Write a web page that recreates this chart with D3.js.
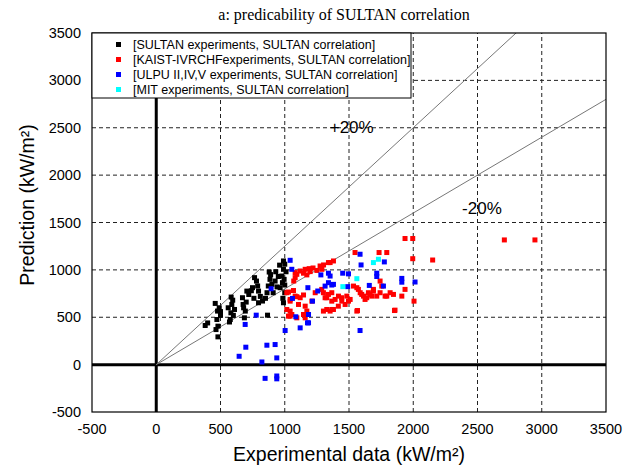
<!DOCTYPE html>
<html>
<head>
<meta charset="utf-8">
<script src="https://cdn.jsdelivr.net/npm/d3@7"></script>
<style>
  body { margin: 0; background: #fff; }
  svg { display: block; }
</style>
</head>
<body>
<div id="root"></div>
<script>
const width = 633;
const height = 466;

// tick values for both axes
const xTicks = [-500, 0, 500, 1000, 1500, 2000, 2500, 3000, 3500];
const yTicks = [-500, 0, 500, 1000, 1500, 2000, 2500, 3000, 3500];

// series: [experimental, predicted] in kW/m2
const sultan = [
  [381, 413], [400, 440], [459, 646], [477, 565], [472, 476], [480, 406], [465, 370], [480, 293],
  [500, 520], [490, 600], [500, 560], [583, 713], [588, 635], [581, 547], [576, 476], [609, 582],
  [600, 520], [595, 680], [560, 600], [570, 450], [671, 706], [676, 635], [693, 565], [686, 494],
  [705, 776], [700, 660], [680, 600], [720, 740], [749, 812], [765, 918], [780, 882], [789, 830],
  [796, 776], [796, 653], [827, 671], [760, 700], [740, 780], [810, 720], [866, 522], [879, 977],
  [885, 900], [872, 830], [862, 759], [850, 700], [890, 950], [925, 882], [900, 847], [910, 759],
  [940, 820], [950, 930], [930, 980], [960, 1050], [990, 1094], [990, 1006], [977, 935], [982, 865],
  [964, 812], [1000, 759], [990, 653], [1000, 1060], [1010, 980], [995, 900], [985, 700], [1000, 840]
];

const kaist = [
  [1016, 759], [1029, 766], [1042, 688], [1068, 782], [1081, 723], [1120, 706], [1107, 635], [1042, 670],
  [1094, 717], [1146, 735], [1016, 582], [1042, 565], [1055, 529], [1042, 512], [1094, 494], [1029, 512],
  [1146, 529], [1159, 494], [1159, 617], [1172, 565], [1211, 670], [1237, 759], [1070, 882], [1081, 918],
  [1081, 971], [1094, 953], [1120, 988], [1146, 965], [1159, 1006], [1172, 947], [1190, 1013], [1198, 982],
  [1220, 1020], [1250, 994], [1275, 1041], [1289, 1006], [1302, 1052], [1340, 1077], [1353, 1077], [1379, 1094],
  [1288, 794], [1301, 759], [1314, 706], [1327, 706], [1340, 741], [1366, 759], [1366, 670], [1392, 688],
  [1418, 723], [1443, 706], [1444, 670], [1470, 635], [1483, 723], [1496, 670], [1509, 688], [1301, 565],
  [1353, 565], [1379, 582], [1327, 582], [1366, 582], [1417, 617], [1535, 829], [1561, 812], [1573, 794],
  [1587, 759], [1599, 741], [1613, 723], [1625, 688], [1638, 706], [1651, 759], [1664, 741], [1677, 723],
  [1690, 777], [1690, 794], [1716, 723], [1742, 759], [1742, 882], [1755, 829], [1781, 723], [1794, 723],
  [1820, 759], [1846, 741], [1561, 565], [1566, 571], [1854, 571], [1858, 575], [1547, 1183], [1734, 1183],
  [1794, 1183], [1936, 1331], [1996, 1331], [1996, 1118], [2151, 1104], [1936, 794], [1911, 723], [2006, 670],
  [2709, 1316], [2947, 1316]
];

const ulpu = [
  [692, 424], [778, 522], [894, 801], [1003, 360], [1042, 1101], [1055, 1006], [697, 184], [645, 88],
  [861, 205], [925, 212], [938, 71], [822, 28], [847, -145], [938, -120], [938, -150], [1060, 699],
  [1086, 505], [1185, 529], [1185, 441], [1120, 388], [1177, 441], [1216, 670], [1257, 777], [1180, 812],
  [1281, 947], [1340, 965], [1353, 935], [1340, 865], [1314, 829], [1366, 840], [1379, 847], [1451, 965],
  [1496, 958], [1490, 823], [1586, 1165], [1594, 1052], [1586, 360], [1658, 836], [1716, 965], [1716, 930],
  [1775, 1084], [1768, 829], [1911, 910], [1911, 870], [2014, 872]
];

const mit = [[1452, 823], [1561, 907], [1690, 1077], [1729, 1112]];

const series = [
  {label: '[SULTAN experiments, SULTAN correlation]', color: '#000000', data: sultan},
  {label: '[KAIST-IVRCHFexperiments, SULTAN correlation]', color: '#ff0000', data: kaist},
  {label: '[ULPU II,IV,V experiments, SULTAN correlation]', color: '#0000ff', data: ulpu},
  {label: '[MIT experiments, SULTAN correlation]', color: '#00ffff', data: mit}
];

// +20% / -20% bounds
const bounds = [{slope: 1.25, text: '+20%', at: [1350, 2445]}, {slope: 0.8, text: '-20%', at: [2380, 1590]}];

const margin = {left: 92, right: 27, top: 33, bottom: 54};
const x = d3.scaleLinear().domain([-500, 3500]).range([margin.left, width - margin.right]);
const y = d3.scaleLinear().domain([-500, 3500]).range([height - margin.bottom, margin.top]);

const svg = d3.select('#root').append('svg')
  .attr('width', width)
  .attr('height', height)
  .style('font-family', 'Liberation Sans, Arial, sans-serif');

// title
svg.append('text')
  .attr('x', 344).attr('y', 20)
  .attr('text-anchor', 'middle')
  .style('font-family', 'Liberation Serif, Times New Roman, serif')
  .style('font-size', '16px')
  .text('a: predicability of SULTAN correlation');

// clip
svg.append('clipPath').attr('id', 'plot')
  .append('rect')
  .attr('x', x(-500)).attr('y', y(3500))
  .attr('width', x(3500) - x(-500)).attr('height', y(-500) - y(3500));

// dashed grid
const grid = svg.append('g');
grid.selectAll('.gx')
  .data(xTicks.filter(d => d > -500 && d < 3500 && d !== 0))
  .join('line')
  .attr('x1', d => x(d)).attr('x2', d => x(d))
  .attr('y1', y(-500)).attr('y2', y(3500))
  .attr('stroke', '#222').attr('stroke-dasharray', '4,3').attr('stroke-width', 1);
grid.selectAll('.gy')
  .data(yTicks.filter(d => d > -500 && d < 3500 && d !== 0))
  .join('line')
  .attr('y1', d => y(d)).attr('y2', d => y(d))
  .attr('x1', x(-500)).attr('x2', x(3500))
  .attr('stroke', '#222').attr('stroke-dasharray', '4,3').attr('stroke-width', 1);

// thick zero axes
svg.append('line')
  .attr('x1', x(0)).attr('x2', x(0)).attr('y1', y(-500)).attr('y2', y(3500))
  .attr('stroke', '#000').attr('stroke-width', 3);
svg.append('line')
  .attr('x1', x(-500)).attr('x2', x(3500)).attr('y1', y(0)).attr('y2', y(0))
  .attr('stroke', '#000').attr('stroke-width', 3);

// bound lines
svg.append('g').attr('clip-path', 'url(#plot)')
  .selectAll('line')
  .data(bounds)
  .join('line')
  .attr('x1', x(0)).attr('y1', y(0))
  .attr('x2', x(3500)).attr('y2', d => y(3500 * d.slope))
  .attr('stroke', '#777').attr('stroke-width', 1);

svg.selectAll('.blabel')
  .data(bounds)
  .join('text')
  .attr('x', d => x(d.at[0])).attr('y', d => y(d.at[1]))
  .style('font-size', '17px')
  .text(d => d.text);

// points
const pts = svg.append('g').attr('clip-path', 'url(#plot)');
series.forEach(s => {
  pts.append('g')
    .selectAll('rect')
    .data(s.data)
    .join('rect')
    .attr('x', d => x(d[0]) - 2.5)
    .attr('y', d => y(d[1]) - 2.5)
    .attr('width', 5).attr('height', 5)
    .attr('fill', s.color);
});

// frame
svg.append('rect')
  .attr('x', x(-500)).attr('y', y(3500))
  .attr('width', x(3500) - x(-500)).attr('height', y(-500) - y(3500))
  .attr('fill', 'none').attr('stroke', '#000').attr('stroke-width', 1.2);

// tick labels
svg.selectAll('.xt')
  .data(xTicks)
  .join('text')
  .attr('x', d => x(d)).attr('y', y(-500) + 22)
  .attr('text-anchor', 'middle')
  .style('font-size', '14.5px')
  .text(d => d);
svg.selectAll('.yt')
  .data(yTicks)
  .join('text')
  .attr('x', x(-500) - 11).attr('y', d => y(d) + 5)
  .attr('text-anchor', 'end')
  .style('font-size', '14.5px')
  .text(d => d);

// axis titles
svg.append('text')
  .attr('x', 349).attr('y', 461)
  .attr('text-anchor', 'middle')
  .style('font-size', '19.5px')
  .text('Experimental data (kW/m²)');
svg.append('text')
  .attr('transform', 'translate(34,205) rotate(-90)')
  .attr('text-anchor', 'middle')
  .style('font-size', '19.5px')
  .text('Prediction (kW/m²)');

// legend
const lg = svg.append('g');
lg.append('rect')
  .attr('x', x(-500)).attr('y', y(3500))
  .attr('width', 319).attr('height', 65)
  .attr('fill', '#fff').attr('stroke', '#000').attr('stroke-width', 1);
const row = lg.selectAll('.row')
  .data(series)
  .join('g')
  .attr('transform', (d, i) => `translate(0,${45 + i * 15})`);
row.append('rect')
  .attr('x', 116).attr('y', -3)
  .attr('width', 5).attr('height', 5)
  .attr('fill', d => d.color);
row.append('text')
  .attr('x', 133).attr('y', 4)
  .style('font-size', '12.5px')
  .text(d => d.label);
</script>
</body>
</html>
